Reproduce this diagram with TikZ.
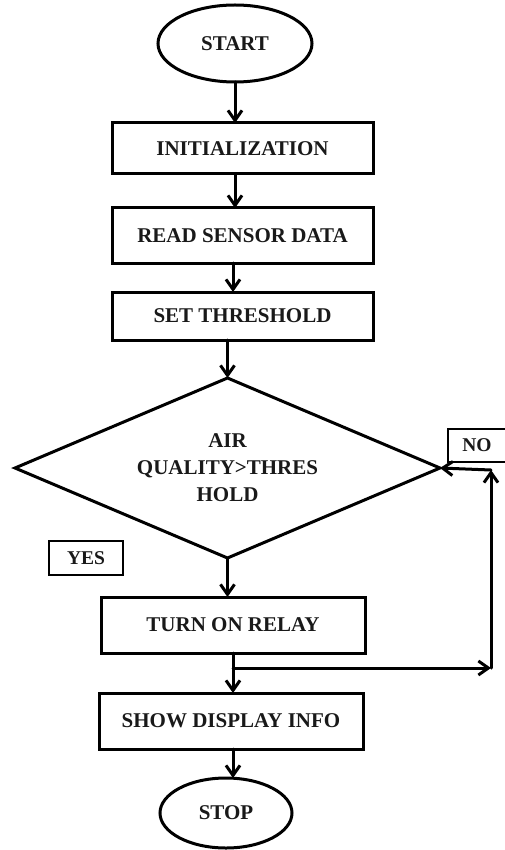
\documentclass[tikz,border=0pt]{standalone}
\usepackage{fontspec}
\setmainfont{Liberation Serif}
\usetikzlibrary{shapes.geometric,arrows.meta}

\tikzset{
  x=1pt, y=-1pt,
  flowline/.style={line width=3pt, line cap=round, line join=round},
  arr/.style={flowline, -{Straight Barb[length=10pt,width=14pt]}},
  stepbox/.style={draw, line width=3pt, rectangle, inner sep=0pt, outer sep=0pt,
    minimum width=261pt, font=\fontsize{21}{27}\selectfont\bfseries, text=black!90},
  term/.style={draw, line width=3pt, ellipse, inner sep=0pt, outer sep=0pt,
    font=\fontsize{21}{27}\selectfont\bfseries, text=black!90},
  decision/.style={draw, line width=3pt, diamond, shape aspect=2.36, inner sep=0pt,
    outer sep=0pt, align=center, font=\fontsize{21}{27}\selectfont\bfseries, text=black!90},
  tag/.style={draw, line width=1.5pt, rectangle, inner sep=0pt, outer sep=0pt,
    font=\fontsize{19.5}{23}\selectfont\bfseries, text=black!90}
}

\begin{document}
\begin{tikzpicture}
\useasboundingbox (0,0) rectangle (505,850);

% terminals and process steps
\node[term, minimum width=154pt, minimum height=77pt] (start) at (235,43.5) {START};
\node[stepbox, minimum height=51pt] (init) at (242.5,148.5) {INITIALIZATION};
\node[stepbox, minimum height=55pt] (read) at (242.5,235.5) {READ SENSOR DATA};
\node[stepbox, minimum height=48pt] (thr) at (242.5,316) {SET THRESHOLD};
\node[decision, minimum width=425pt, minimum height=180pt] (dec) at (227.5,468)
  {AIR\\QUALITY>THRES\\HOLD};
\node[stepbox, minimum width=264pt, minimum height=56pt] (relay) at (233,625) {TURN ON RELAY};
\node[stepbox, minimum width=264pt, minimum height=56pt] (show) at (231,721) {SHOW DISPLAY INFO};
\node[term, minimum width=132pt, minimum height=70pt] (stop) at (226,813) {STOP};

% branch labels
\node[tag, minimum width=74pt, minimum height=34pt] (yes) at (86,558) {YES};
\node[tag, minimum width=58pt, minimum height=33pt] (no) at (477,445.5) {NO};

% main flow
\draw[arr] (start.south) -- (start.south |- init.north);
\draw[arr] (235,174) -- (235,208);
\draw[arr] (233,263) -- (233,292);
\draw[arr] (thr.south -| dec.north) -- (dec.north);
\draw[arr] (dec.south) -- (dec.south |- relay.north);
\draw[arr] (relay.south) -- (relay.south |- show.north);
\draw[arr] (233,749) -- (233,778);

% return loop
\coordinate (br) at (233,668);
\coordinate (rc) at (491,668);
\coordinate (rt) at (491,470);
\draw[arr] (br) -- (rc);
\draw[arr] (rc) -- (rt);
\draw[arr] (rt) -- (dec.east);
\end{tikzpicture}
\end{document}
